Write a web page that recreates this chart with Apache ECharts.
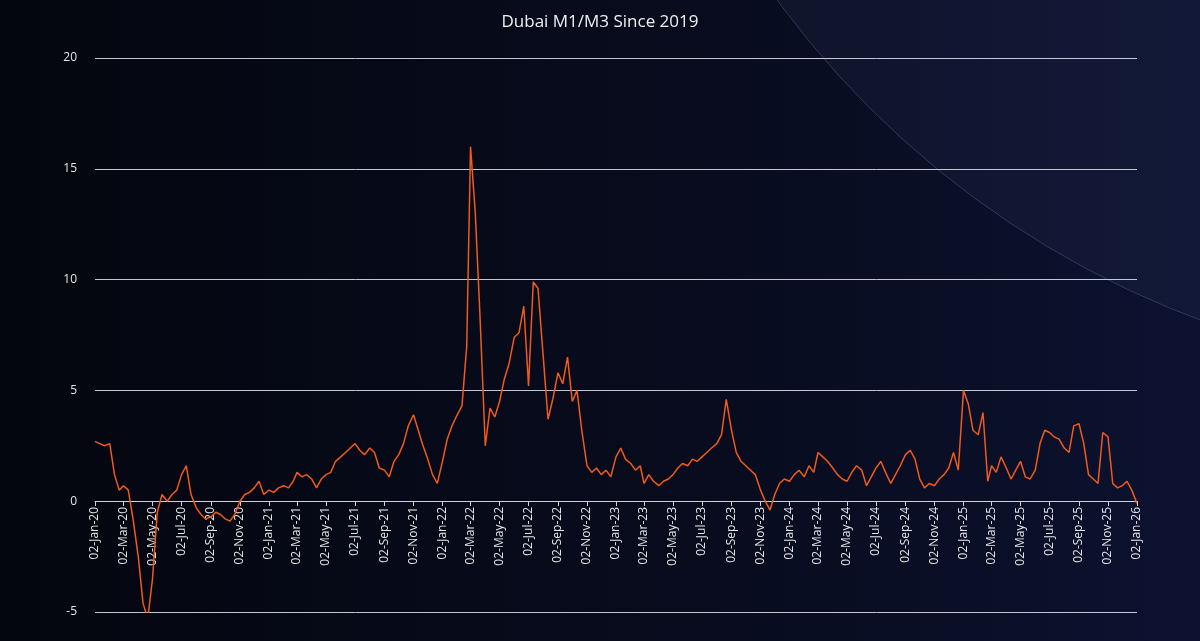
<!DOCTYPE html>
<html><head><meta charset="utf-8">
<script src="https://cdn.jsdelivr.net/npm/echarts@6/dist/echarts.min.js"></script>
<style>html,body{margin:0;padding:0;background:#070b19;}#c{width:1200px;height:641px;}</style>
</head><body><div id="c"></div>
<script>
// Dubai M1/M3 spread, 3 readings per month (2nd, 12th, 22nd), Jan 2020 – Dec 2025, plus 02-Jan-26
const startYear = 2020;
const sampleDays = [2, 12, 22];
const spreadValues = [
  // 2020
  2.7,2.6,2.5, 2.6,1.2,0.5, 0.7,0.5,-0.8, -2.5,-4.6,-5.3, -3.5,-0.5,0.3, 0.0,0.3,0.5,
  1.2,1.6,0.3, -0.3,-0.6,-0.8, -0.7,-0.5,-0.6, -0.8,-0.9,-0.6, 0.0,0.3,0.4, 0.6,0.9,0.3,
  // 2021
  0.5,0.4,0.6, 0.7,0.6,0.9, 1.3,1.1,1.2, 1.0,0.6,1.0, 1.2,1.3,1.8, 2.0,2.2,2.4,
  2.6,2.3,2.1, 2.4,2.2,1.5, 1.4,1.1,1.8, 2.1,2.6,3.4, 3.9,3.2,2.5, 1.9,1.2,0.8,
  // 2022
  1.8,2.8,3.4, 3.9,4.3,7.0, 16.0,13.0,8.3, 2.5,4.2,3.8, 4.5,5.5,6.2, 7.4,7.6,8.8,
  5.2,9.9,9.6, 6.5,3.7,4.6, 5.8,5.3,6.5, 4.5,5.0,3.2, 1.6,1.3,1.5, 1.2,1.4,1.1,
  // 2023
  2.0,2.4,1.9, 1.7,1.4,1.6, 0.8,1.2,0.9, 0.7,0.9,1.0, 1.2,1.5,1.7, 1.6,1.9,1.8,
  2.0,2.2,2.4, 2.6,3.0,4.6, 3.2,2.2,1.8, 1.6,1.4,1.2, 0.5,0.0,-0.4, 0.3,0.8,1.0,
  // 2024
  0.9,1.2,1.4, 1.1,1.6,1.3, 2.2,2.0,1.8, 1.5,1.2,1.0, 0.9,1.3,1.6, 1.4,0.7,1.1,
  1.5,1.8,1.3, 0.8,1.2,1.6, 2.1,2.3,1.9, 1.0,0.6,0.8, 0.7,1.0,1.2, 1.5,2.2,1.4,
  // 2025
  5.0,4.4,3.2, 3.0,4.0,0.9, 1.6,1.3,2.0, 1.5,1.0,1.4, 1.8,1.1,1.0, 1.4,2.6,3.2,
  3.1,2.9,2.8, 2.4,2.2,3.4, 3.5,2.6,1.2, 1.0,0.8,3.1, 2.9,0.8,0.6, 0.7,0.9,0.5,
  // 2026
  -0.1
];
const yTicks = [-5, 0, 5, 10, 15, 20];
const monthNames = ['Jan','Feb','Mar','Apr','May','Jun','Jul','Aug','Sep','Oct','Nov','Dec'];

const points = spreadValues.map((v, i) => {
  const m = Math.floor(i / 3), d = sampleDays[i % 3];
  return [Date.UTC(startYear + Math.floor(m / 12), m % 12, d), v];
});
const xTicks = [];
for (let m = 0; m <= 72; m += 2) xTicks.push(Date.UTC(startYear + Math.floor(m / 12), m % 12, 2));
const fmt = t => { const d = new Date(t); return '02-' + monthNames[d.getUTCMonth()] + '-' + String(d.getUTCFullYear()).slice(2); };

const chart = echarts.init(document.getElementById('c'));
chart.setOption({
  backgroundColor: {type:'linear', x:0, y:0, x2:1, y2:0, colorStops:[{offset:0,color:'#04060f'},{offset:0.6,color:'#080c1e'},{offset:1,color:'#0c1230'}]},
  graphic: [{
    type:'circle', silent:true, z:-10, shape:{cx:1522, cy:-545, r:923},
    style:{fill:'rgba(40,48,85,0.22)', stroke:'rgba(130,140,180,0.3)', lineWidth:1}
  }],
  title: {text:'Dubai M1/M3 Since 2019', left:'center', top:9,
    textStyle:{color:'#f0f0f0', fontSize:17, fontWeight:'normal', fontFamily:'Open Sans'}},
  grid: {left:95, right:63, top:58, bottom:29, containLabel:false, outerBoundsMode:'none'},
  xAxis: {
    type:'value', min:xTicks[0], max:xTicks[xTicks.length-1],
    offset:-111,
    splitLine:{show:false},
    axisLine:{onZero:false, lineStyle:{color:'#d0d0d8'}},
    axisTick:{customValues:xTicks, length:5, lineStyle:{color:'#d0d0d8'}},
    axisLabel:{customValues:xTicks, formatter:fmt, rotate:90, color:'#e6e6e6', fontSize:12, fontFamily:'Open Sans', margin:6}
  },
  yAxis: {
    type:'value', min:yTicks[0], max:yTicks[yTicks.length-1], interval:5,
    axisLine:{show:false}, axisTick:{show:false},
    splitLine:{lineStyle:{color:'#c4c6d0', width:1}},
    axisLabel:{color:'#e6e6e6', fontSize:12, fontFamily:'Open Sans', margin:18}
  },
  series: [{type:'line', data:points, showSymbol:false, lineStyle:{color:'#f05a1a', width:1.5}, itemStyle:{color:'#f05a1a'}}]
});
</script></body></html>
